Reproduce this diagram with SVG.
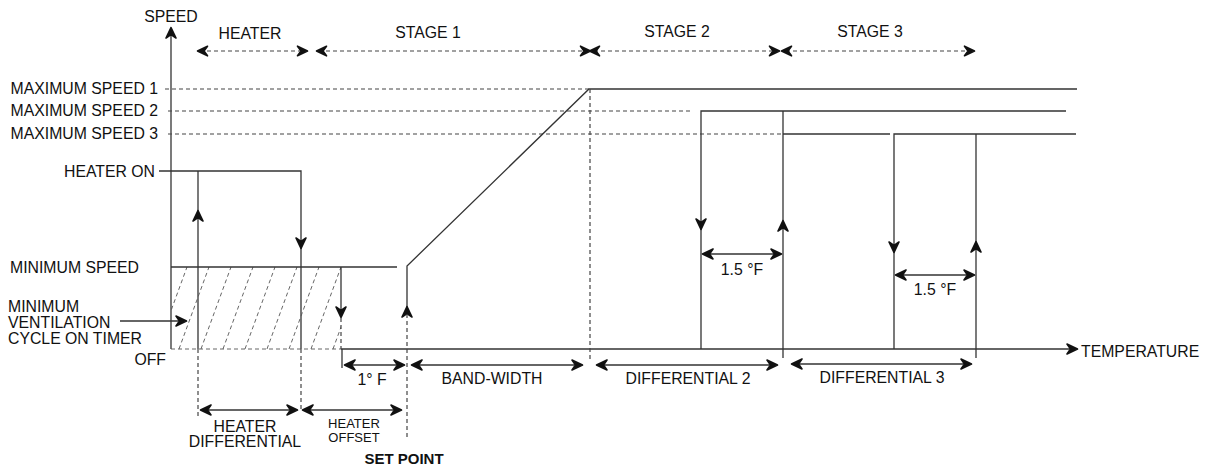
<svg xmlns="http://www.w3.org/2000/svg" xmlns:xlink="http://www.w3.org/1999/xlink" width="1209" height="468" viewBox="0 0 1209 468">
<style>
text{font-family:"Liberation Sans",Arial,sans-serif;font-size:15.8px;fill:#111}
.sm{font-size:13px}
.b{font-weight:bold;font-size:15px}
.e{text-anchor:end}
.m{text-anchor:middle}
.ln{stroke:#333;stroke-width:1.3;fill:none}
.dl{stroke:#444;stroke-width:1.2;fill:none;stroke-dasharray:4 3}
.hl{stroke:#555;stroke-width:0.9;fill:none;stroke-dasharray:4 3}
.ah{fill:#111;stroke:#111;stroke-width:1.6;stroke-linejoin:round}
</style>
<defs>
<path id="ah" d="M-0.5,0 L-11,-5 L-7.5,0 L-11,5 Z"/>
<path id="as" d="M-0.5,0 L-10.5,-4.8 L-7,0 L-10.5,4.8 Z"/>
<clipPath id="hc"><rect x="171" y="267" width="170" height="82"/></clipPath>
</defs>

<g id="axes">
<line class="ln" x1="171" y1="32" x2="171" y2="349"/>
<use href="#ah" class="ah" transform="translate(171,27) rotate(-90)"/>
<line class="ln" x1="341" y1="349" x2="1072" y2="349"/>
<use href="#ah" class="ah" transform="translate(1078,349)"/>
<text x="171" y="22" class="m">SPEED</text>
<text x="1081" y="357">TEMPERATURE</text>
<text x="166" y="365" class="e">OFF</text>
</g>

<g id="stages">
<line class="dl" x1="200" y1="51" x2="305" y2="51"/>
<use href="#as" class="ah" transform="translate(197,51) rotate(180)"/>
<use href="#as" class="ah" transform="translate(308,51)"/>
<text x="250" y="39" class="m">HEATER</text>
<line class="dl" x1="319" y1="51" x2="586" y2="51"/>
<use href="#as" class="ah" transform="translate(316,51) rotate(180)"/>
<use href="#as" class="ah" transform="translate(591,51)"/>
<text x="428" y="38" class="m">STAGE 1</text>
<line class="dl" x1="594" y1="51" x2="776" y2="51"/>
<use href="#as" class="ah" transform="translate(589,51) rotate(180)"/>
<use href="#as" class="ah" transform="translate(780,51)"/>
<text x="677" y="37" class="m">STAGE 2</text>
<line class="dl" x1="786" y1="51" x2="970" y2="51"/>
<use href="#as" class="ah" transform="translate(781,51) rotate(180)"/>
<use href="#as" class="ah" transform="translate(975,51)"/>
<text x="870" y="37" class="m">STAGE 3</text>
</g>

<g id="max-speeds">
<text x="158" y="94" class="e">MAXIMUM SPEED 1</text>
<text x="158" y="116" class="e">MAXIMUM SPEED 2</text>
<text x="158" y="139" class="e">MAXIMUM SPEED 3</text>
<line class="dl" x1="165" y1="89" x2="589" y2="89"/>
<line class="dl" x1="168" y1="111" x2="690" y2="111"/>
<line class="dl" x1="168" y1="134" x2="781" y2="134"/>
</g>

<g id="heater">
<text x="155" y="177" class="e">HEATER ON</text>
<polyline class="ln" points="159,171 301,171 301,349"/>
<line class="ln" x1="198" y1="171" x2="198" y2="349"/>
<use href="#ah" class="ah" transform="translate(198,210) rotate(-90)"/>
<use href="#ah" class="ah" transform="translate(301,249) rotate(90)"/>
<line class="dl" x1="198" y1="349" x2="198" y2="417"/>
<line class="dl" x1="301" y1="349" x2="301" y2="412"/>
</g>

<g id="minimum-ventilation">
<g clip-path="url(#hc)">
<line class="hl" x1="135" y1="349" x2="165" y2="267"/>
<line class="hl" x1="157" y1="349" x2="187" y2="267"/>
<line class="hl" x1="179" y1="349" x2="209" y2="267"/>
<line class="hl" x1="201" y1="349" x2="231" y2="267"/>
<line class="hl" x1="223" y1="349" x2="253" y2="267"/>
<line class="hl" x1="245" y1="349" x2="275" y2="267"/>
<line class="hl" x1="267" y1="349" x2="297" y2="267"/>
<line class="hl" x1="289" y1="349" x2="319" y2="267"/>
<line class="hl" x1="311" y1="349" x2="341" y2="267"/>
<line class="hl" x1="333" y1="349" x2="363" y2="267"/>
</g>
<line class="hl" x1="171" y1="349" x2="341" y2="349"/>
<line class="ln" x1="171" y1="267" x2="397" y2="267"/>
<line class="ln" x1="341" y1="267" x2="341" y2="312"/>
<use href="#ah" class="ah" transform="translate(341,318) rotate(90)"/>
<line class="dl" x1="341" y1="318" x2="341" y2="349"/>
<line class="ln" x1="342" y1="349" x2="342" y2="368"/>
<text x="10" y="273">MINIMUM SPEED</text>
<text x="8" y="312">MINIMUM</text>
<text x="8" y="328">VENTILATION</text>
<text x="8" y="344">CYCLE ON TIMER</text>
<line class="ln" x1="120" y1="321" x2="182" y2="321"/>
<use href="#ah" class="ah" transform="translate(187,321)"/>
</g>

<g id="stage1">
<polyline class="ln" points="407,312 407,266 589,89 1077,89"/>
<use href="#ah" class="ah" transform="translate(407,306) rotate(-90)"/>
<line class="dl" x1="407" y1="314" x2="407" y2="438"/>
<line class="dl" x1="590" y1="89" x2="590" y2="360"/>
</g>

<g id="stage2">
<polyline class="ln" points="701,349 701,111 1066,111"/>
<polyline class="ln" points="783,358 783,111"/>
<line class="ln" x1="783" y1="134" x2="890" y2="134"/>
<use href="#ah" class="ah" transform="translate(701,230) rotate(90)"/>
<use href="#ah" class="ah" transform="translate(783,220) rotate(-90)"/>
<line class="ln" x1="707" y1="254" x2="777" y2="254"/>
<use href="#ah" class="ah" transform="translate(702,254) rotate(180)"/>
<use href="#ah" class="ah" transform="translate(782,254)"/>
<text x="742" y="275" class="m">1.5 °F</text>
</g>

<g id="stage3">
<polyline class="ln" points="894,349 894,134 1076,134"/>
<line class="ln" x1="976" y1="134" x2="976" y2="358"/>
<use href="#ah" class="ah" transform="translate(894,253) rotate(90)"/>
<use href="#ah" class="ah" transform="translate(976,241) rotate(-90)"/>
<line class="ln" x1="900" y1="275" x2="970" y2="275"/>
<use href="#ah" class="ah" transform="translate(895,275) rotate(180)"/>
<use href="#ah" class="ah" transform="translate(975,275)"/>
<text x="935" y="295" class="m">1.5 °F</text>
</g>

<g id="dimensions">
<line class="ln" x1="349" y1="365" x2="400" y2="365"/>
<use href="#ah" class="ah" transform="translate(344,365) rotate(180)"/>
<use href="#ah" class="ah" transform="translate(405,365)"/>
<text x="372" y="385" class="m">1° F</text>
<line class="ln" x1="416" y1="365" x2="578" y2="365"/>
<use href="#ah" class="ah" transform="translate(411,365) rotate(180)"/>
<use href="#ah" class="ah" transform="translate(583,365)"/>
<text x="492" y="384" class="m">BAND-WIDTH</text>
<line class="ln" x1="601" y1="365" x2="773" y2="365"/>
<use href="#ah" class="ah" transform="translate(596,365) rotate(180)"/>
<use href="#ah" class="ah" transform="translate(778,365)"/>
<text x="688" y="384" class="m">DIFFERENTIAL 2</text>
<line class="ln" x1="796" y1="364" x2="967" y2="364"/>
<use href="#ah" class="ah" transform="translate(791,364) rotate(180)"/>
<use href="#ah" class="ah" transform="translate(972,364)"/>
<text x="882" y="383" class="m">DIFFERENTIAL 3</text>
<line class="ln" x1="205" y1="410" x2="293" y2="410"/>
<use href="#ah" class="ah" transform="translate(200,410) rotate(180)"/>
<use href="#ah" class="ah" transform="translate(298,410)"/>
<text x="245" y="432" class="m">HEATER</text>
<text x="245" y="447" class="m">DIFFERENTIAL</text>
<line class="ln" x1="307" y1="410" x2="397" y2="410"/>
<use href="#ah" class="ah" transform="translate(302,410) rotate(180)"/>
<use href="#ah" class="ah" transform="translate(402,410)"/>
<text x="354" y="428" class="m sm">HEATER</text>
<text x="354" y="442" class="m sm">OFFSET</text>
<text x="404" y="464" class="m b">SET POINT</text>
</g>
</svg>
